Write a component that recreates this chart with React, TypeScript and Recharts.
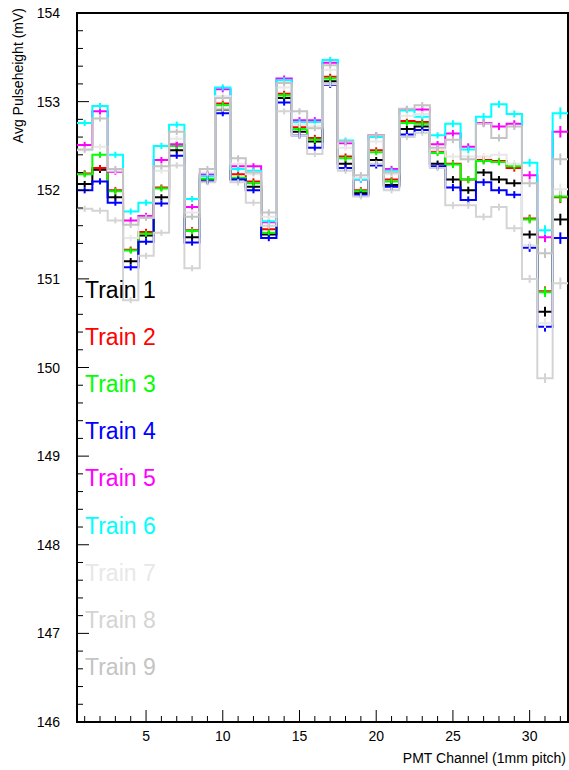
import React from "react";
import {
  ComposedChart,
  ErrorBar,
  Line,
  ReferenceArea,
  Scatter,
  XAxis,
  YAxis,
} from "recharts";

const channels = [
  1, 2, 3, 4, 5, 6, 7, 8, 9, 10, 11, 12, 13, 14, 15, 16, 17, 18, 19, 20, 21,
  22, 23, 24, 25, 26, 27, 28, 29, 30, 31, 32,
];

const train1 = [
  152.07, 152.23, 151.92, 151.2, 151.49, 151.92, 152.45, 151.47, 152.12,
  152.91, 152.13, 152.04, 151.5, 153.04, 152.66, 152.55, 153.23, 152.3,
  151.97, 152.34, 152.06, 152.69, 152.72, 152.3, 152.12, 152.0, 152.2, 152.12,
  152.08, 151.5, 150.63, 151.67,
];
const train2 = [
  152.19, 152.25, 152.0, 151.33, 151.53, 152.03, 152.51, 151.55, 152.17,
  152.98, 152.18, 152.1, 151.56, 153.09, 152.71, 152.59, 153.28, 152.38, 152.0,
  152.45, 152.12, 152.78, 152.77, 152.44, 152.3, 152.12, 152.34, 152.33,
  152.25, 151.68, 150.86, 151.92,
];
const train3 = [
  152.18, 152.4, 151.99, 151.32, 151.51, 152.02, 152.5, 151.54, 152.13, 152.96,
  152.14, 152.08, 151.52, 153.07, 152.69, 152.57, 153.26, 152.36, 151.99,
  152.43, 152.1, 152.76, 152.75, 152.42, 152.29, 152.12, 152.33, 152.32,
  152.27, 151.67, 150.85, 151.93,
];
const train4 = [
  152.0, 152.1, 151.86, 151.13, 151.42, 151.85, 152.39, 151.41, 152.1, 152.87,
  152.12, 152.0, 151.46, 152.99, 152.62, 152.48, 153.19, 152.25, 151.95,
  152.28, 152.04, 152.63, 152.68, 152.27, 152.03, 151.89, 152.09, 152.0,
  151.95, 151.35, 150.46, 151.46,
];
const train5 = [
  152.51, 152.89, 152.21, 151.66, 151.71, 152.34, 152.52, 151.81, 152.18,
  153.14, 152.27, 152.27, 151.64, 153.26, 152.79, 152.79, 153.44, 152.53,
  152.12, 152.62, 152.24, 152.91, 152.91, 152.52, 152.64, 152.49, 152.76,
  152.72, 152.75, 152.17, 151.47, 152.66,
];
const train6 = [
  152.76, 152.95, 152.4, 151.76, 151.86, 152.5, 152.74, 151.9, 152.16, 153.16,
  152.24, 152.22, 151.65, 153.24, 152.77, 152.77, 153.47, 152.56, 152.12, 152.6,
  152.22, 152.9, 152.83, 152.62, 152.75, 152.46, 152.83, 152.97, 152.86,
  152.31, 151.55, 152.87,
];
const train7 = [
  152.45, 152.49, 152.22, 151.46, 151.69, 152.22, 152.58, 151.75, 152.2,
  153.06, 152.3, 152.18, 151.7, 153.16, 152.74, 152.72, 153.36, 152.48, 152.14,
  152.55, 152.18, 152.84, 152.86, 152.45, 152.38, 152.38, 152.38, 152.4, 152.3,
  151.38, 150.5, 152.01,
];
const train8 = [
  151.79, 151.77, 151.66, 150.76, 151.26, 151.52, 152.28, 151.12, 152.09,
  152.92, 152.09, 151.86, 151.6, 152.89, 152.62, 152.41, 153.2, 152.22, 151.93,
  152.3, 152.0, 152.6, 152.65, 152.25, 151.83, 151.83, 151.7, 151.81, 151.57,
  151.0, 149.88, 150.95,
];
const train9 = [
  152.46, 152.81, 152.24, 151.61, 151.69, 152.27, 152.66, 151.7, 152.24,
  153.04, 152.36, 152.2, 151.75, 153.21, 152.89, 152.7, 153.41, 152.55, 152.17,
  152.62, 152.2, 152.92, 152.96, 152.48, 152.57, 152.35, 152.75, 152.59,
  152.72, 152.08, 151.29, 152.35,
];

// error on the mean per channel (same for all trains)
const errors = [
  0.035, 0.035, 0.035, 0.035, 0.035, 0.035, 0.035, 0.035, 0.035, 0.035, 0.035,
  0.035, 0.035, 0.035, 0.035, 0.035, 0.035, 0.035, 0.035, 0.035, 0.035, 0.035,
  0.035, 0.035, 0.04, 0.04, 0.04, 0.04, 0.04, 0.045, 0.055, 0.065,
];

const trainNames = [
  "Train 1",
  "Train 2",
  "Train 3",
  "Train 4",
  "Train 5",
  "Train 6",
  "Train 7",
  "Train 8",
  "Train 9",
];
const trainColors = [
  "#000000",
  "#ff0000",
  "#00ff00",
  "#0000ff",
  "#ff00ff",
  "#00ffff",
  "#e8e8e8",
  "#d4d4d4",
  "#c4c4c4",
];
const trains = [train1, train2, train3, train4, train5, train6, train7, train8, train9];

const xTicks = channels;
const yTicks = Array.from({ length: 41 }, (_, i) => 146 + i * 0.2);

const FONT = "'Liberation Sans', Arial, sans-serif";

// histogram outline: one point per bin edge, drawn with stepAfter
function stepData(values: number[]) {
  const pts = values.map((v, i) => ({ x: channels[i] - 0.5, y: v }));
  pts.push({ x: channels[channels.length - 1] + 0.5, y: values[values.length - 1] });
  return pts;
}

function pointData(values: number[]) {
  return values.map((v, i) => ({ x: channels[i], y: v, err: errors[i] }));
}

function XTick(props: any) {
  const { x, y, payload } = props;
  const major = payload.value % 5 === 0;
  return (
    <g>
      <line x1={x} x2={x} y1={y} y2={y - (major ? 12 : 6)} stroke="#000" strokeWidth={1} />
      {major && (
        <text x={x} y={y + 19} textAnchor="middle" fontSize={14} fontFamily={FONT} fill="#000">
          {payload.value}
        </text>
      )}
    </g>
  );
}

function YTick(props: any) {
  const { x, y, payload } = props;
  const v = payload.value;
  const major = Math.abs(v - Math.round(v)) < 1e-6;
  return (
    <g>
      <line x1={x} x2={x + (major ? 12 : 6)} y1={y} y2={y} stroke="#000" strokeWidth={1} />
      {major && (
        <text x={x - 17} y={y + 5} textAnchor="end" fontSize={14} fontFamily={FONT} fill="#000">
          {Math.round(v)}
        </text>
      )}
    </g>
  );
}

export default function App() {
  return (
    <div style={{ position: "absolute", left: 0, top: 0, width: 569, height: 770, background: "#fff" }}>
      <ComposedChart width={569} height={770} margin={{ top: 13, right: 1, left: 0, bottom: 0 }}>
        <ReferenceArea x1={0.5} x2={32.5} y1={146} y2={154} fill="none" stroke="#000" strokeWidth={2} />
        <XAxis
          type="number"
          dataKey="x"
          domain={[0.5, 32.5]}
          ticks={xTicks}
          interval={0}
          height={48}
          axisLine={false}
          tickLine={false}
          tickSize={0}
          tickMargin={0}
          tick={<XTick />}
          allowDataOverflow
          label={{
            content: (p: any) => (
              <text
                x={p.viewBox.x + p.viewBox.width - 2}
                y={763}
                textAnchor="end"
                fontSize={14}
                fontFamily={FONT}
                fill="#000"
              >
                PMT Channel (1mm pitch)
              </text>
            ),
          }}
        />
        <YAxis
          type="number"
          domain={[146, 154]}
          ticks={yTicks}
          interval={0}
          width={77}
          axisLine={false}
          tickLine={false}
          tickSize={0}
          tickMargin={0}
          tick={<YTick />}
          allowDataOverflow
          label={{
            content: () => (
              <text
                transform="translate(23, 8) rotate(-90)"
                textAnchor="end"
                fontSize={14}
                fontFamily={FONT}
                fill="#000"
              >
                Avg Pulseheight (mV)
              </text>
            ),
          }}
        />
        {trains.map((t, i) => (
          <Line
            key={"l" + i}
            data={stepData(t)}
            dataKey="y"
            type="stepAfter"
            stroke={trainColors[i]}
            strokeWidth={2}
            dot={false}
            activeDot={false}
            isAnimationActive={false}
            name={trainNames[i]}
          />
        ))}
        {trains.map((t, i) => (
          <Scatter
            key={"s" + i}
            data={pointData(t)}
            dataKey="y"
            shape={() => <g />}
            isAnimationActive={false}
            legendType="none"
          >
            <ErrorBar dataKey="err" direction="y" width={0} stroke={trainColors[i]} strokeWidth={2} />
          </Scatter>
        ))}
      </ComposedChart>
      <svg
        width={569}
        height={770}
        style={{ position: "absolute", left: 0, top: 0, pointerEvents: "none" }}
      >
        {trainNames.map((name, i) => (
          <text
            key={name}
            x={85}
            y={298 + i * 47.1}
            fontSize={23}
            fontFamily={FONT}
            fill={trainColors[i]}
          >
            {name}
          </text>
        ))}
      </svg>
    </div>
  );
}
